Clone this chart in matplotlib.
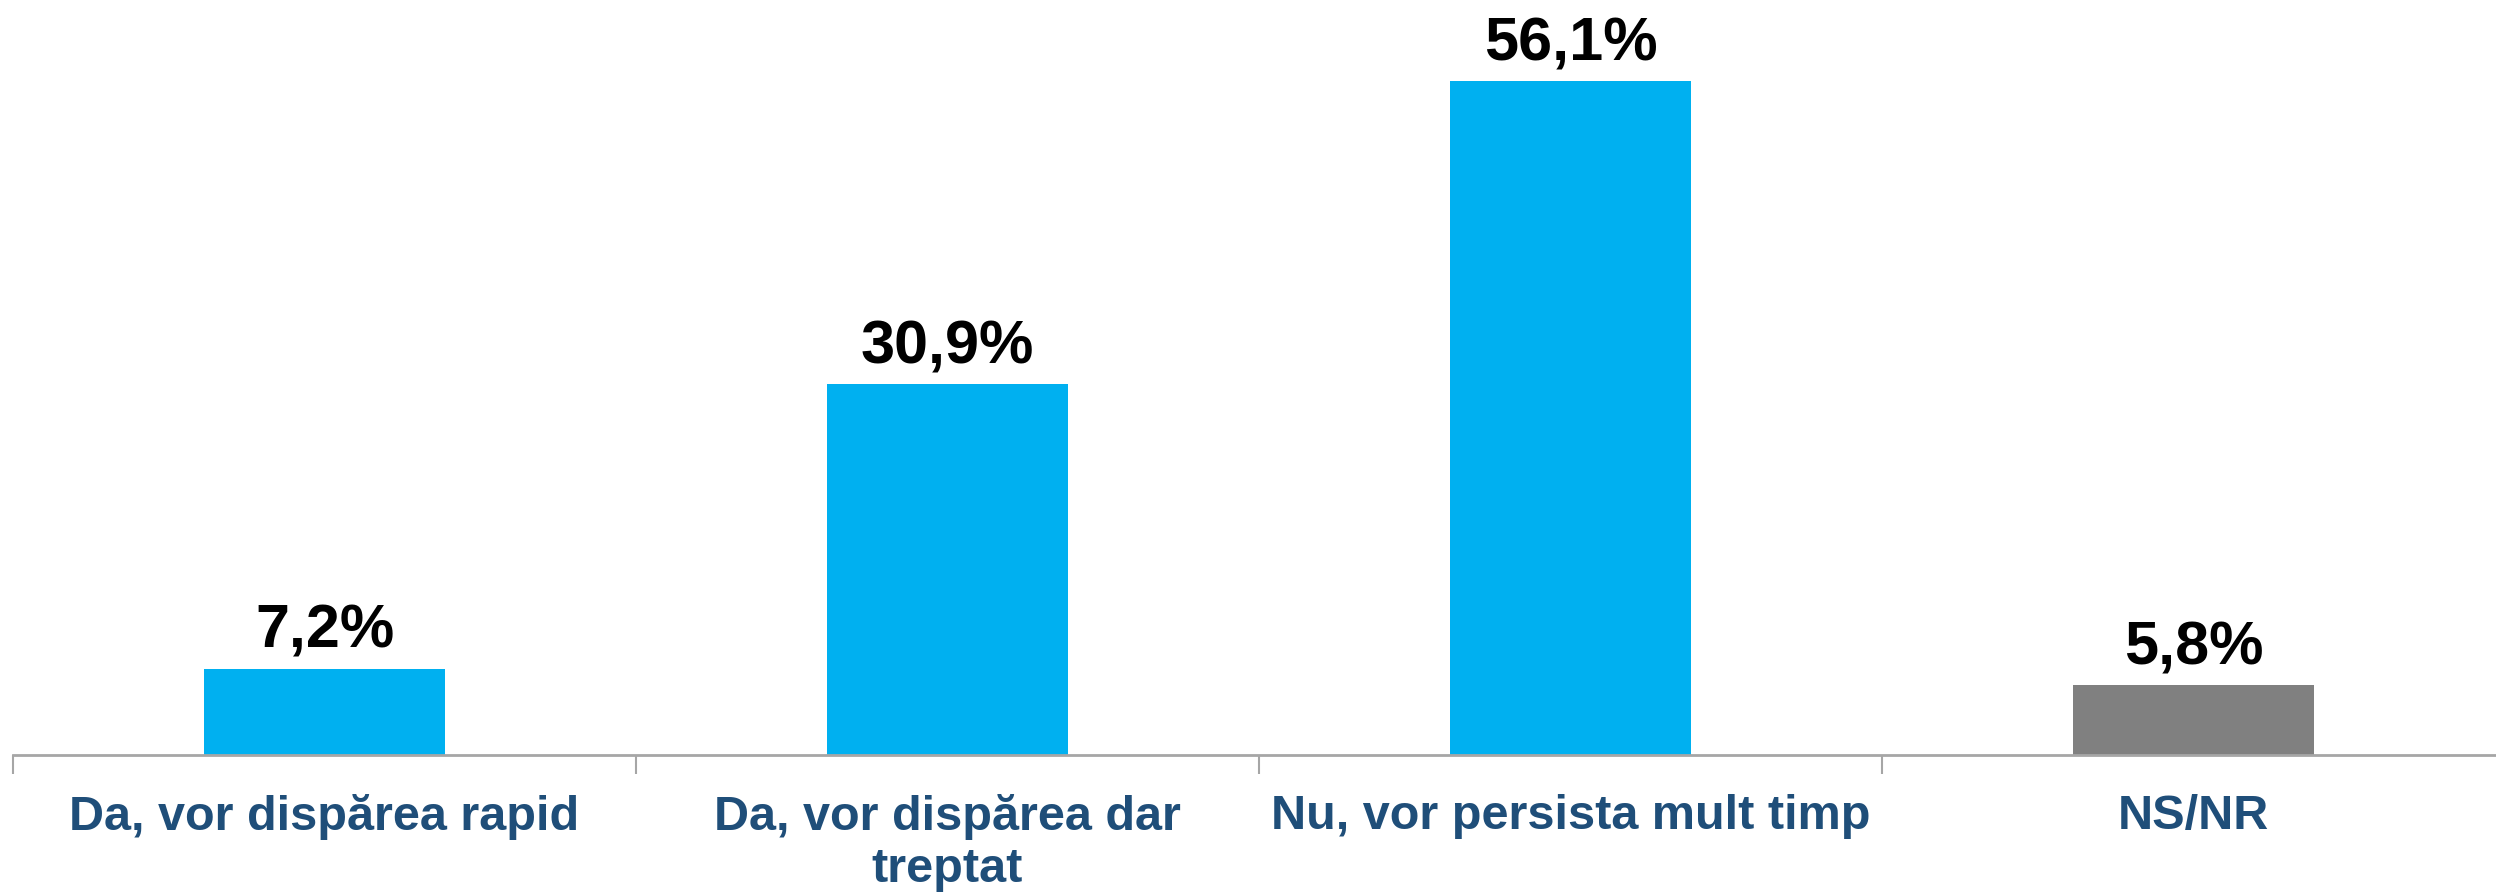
import matplotlib
matplotlib.use("Agg")
import matplotlib.pyplot as plt

categories = ["Da, vor dispărea rapid", "Da, vor dispărea dar\ntreptat",
              "Nu, vor persista mult timp", "NS/NR"]
values = [7.2, 30.9, 56.1, 5.8]
value_labels = ["7,2%", "30,9%", "56,1%", "5,8%"]
bar_colors = ["#00B0F0", "#00B0F0", "#00B0F0", "#808080"]

plt.rcParams["font.family"] = ["Liberation Sans", "DejaVu Sans"]

fig = plt.figure(figsize=(24.96, 8.92), dpi=100)
ax = fig.add_axes([13/2496, 137/892, 2492/2496, 755/892])

x = range(len(categories))
ax.bar(x, values, width=0.387, color=bar_colors)
for xi, v, lab in zip(x, values, value_labels):
    ax.annotate(lab, (xi, v), xytext=(0, 15), textcoords="offset points",
                ha="center", va="baseline", fontsize=44, fontweight="bold", color="black")

ax.set_xlim(-0.5, 3.5)
ax.set_ylim(0, 62.86)
ax.set_yticks([])
for s in ["top", "right", "left"]:
    ax.spines[s].set_visible(False)
ax.spines["bottom"].set_color("#A6A6A6")
ax.spines["bottom"].set_linewidth(2)

ax.set_xticks(list(x))
ax.set_xticklabels(categories, fontsize=35, fontweight="bold", color="#1F4E79",
                   linespacing=1.2)
ax.tick_params(axis="x", which="major", length=0, pad=28)
ax.set_xticks([-0.5, 0.5, 1.5, 2.5, 3.5], minor=True)
ax.tick_params(axis="x", which="minor", length=14, width=1.5, color="#A6A6A6")

fig.savefig("out.png", dpi=100)
